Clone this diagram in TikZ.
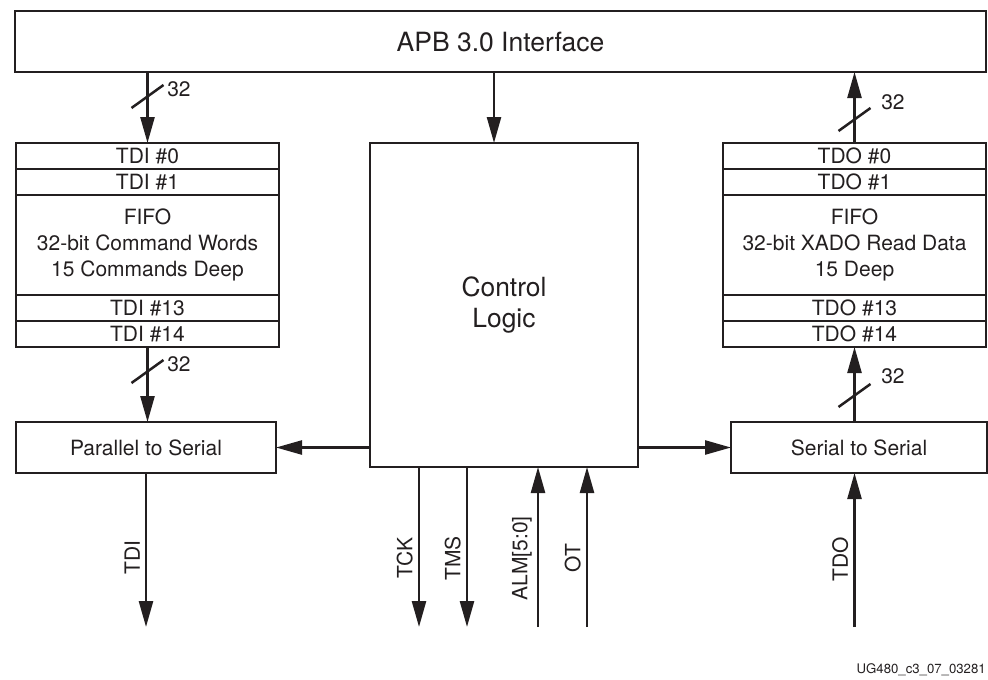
\documentclass[tikz,border=0pt]{standalone}
\usepackage{fontspec}
\setmainfont{TeX Gyre Heros}
\usetikzlibrary{arrows.meta, positioning}
\definecolor{ink}{RGB}{35,31,32}

\begin{document}
\begin{tikzpicture}[
        x=1pt, y=-1pt,
        line width=2.5pt,
        color=ink,
        box/.style={draw, rectangle, inner sep=0pt, outer sep=0pt, align=center,
            font=\fontsize{21}{26}\selectfont},
        row/.style={box, minimum width=263pt, minimum height=26pt},
        wire/.style={-{Triangle[length=26pt, width=14pt]}},
        sig/.style={rotate=90, anchor=south, inner sep=5pt, font=\fontsize{21}{25}\selectfont},
        bus/.style={anchor=west, inner sep=0pt, font=\fontsize{21}{25}\selectfont}
    ]
    \useasboundingbox (0,0) rectangle (988,680);

    % Bus interface
    \node[box, minimum width=971pt, minimum height=61pt,
        font=\fontsize{26.5}{30}\selectfont] (apb) at (500.5, 41.5) {APB 3.0 Interface};

    % Command FIFO
    \node[row] (tdi0) at (147.5, 156) {TDI \#0};
    \node[row, below=0pt of tdi0] (tdi1) {TDI \#1};
    \node[row, minimum height=100pt, below=0pt of tdi1] (tdififo) {FIFO\\32-bit Command Words\\15 Commands Deep};
    \node[row, below=0pt of tdififo] (tdi13) {TDI \#13};
    \node[row, below=0pt of tdi13] (tdi14) {TDI \#14};

    % Read data FIFO
    \node[row] (tdo0) at (854.5, 156) {TDO \#0};
    \node[row, below=0pt of tdo0] (tdo1) {TDO \#1};
    \node[row, minimum height=100pt, below=0pt of tdo1] (tdofifo) {FIFO\\32-bit XADO Read Data\\15 Deep};
    \node[row, below=0pt of tdofifo] (tdo13) {TDO \#13};
    \node[row, below=0pt of tdo13] (tdo14) {TDO \#14};

    % Converters and control
    \node[box, minimum width=260pt, minimum height=51pt] (par) at (146, 447.5) {Parallel to Serial};
    \node[box, minimum width=256pt, minimum height=51pt] (ser) at (859, 447.5) {Serial to Serial};
    \node[box, minimum width=268pt, minimum height=324pt,
        font=\fontsize{26.4}{31}\selectfont] (ctrl) at (504, 305) {Control\\Logic};

    % Free ends of the pins
    \coordinate (tdiout) at (146, 627);
    \coordinate (tck) at (419, 627);
    \coordinate (tms) at (467, 627);
    \coordinate (alm) at (538, 627);
    \coordinate (ot) at (587, 627);
    \coordinate (tdoin) at (854.5, 627);

    % Data path
    \draw[wire] (apb.south -| tdi0.north) -- (tdi0.north);
    \draw[wire] (tdi14.south) -- (tdi14.south |- par.north);
    \draw[wire] (par.south) -- node[sig, pos=.55] {TDI} (tdiout);
    \draw[wire] (tdoin) -- node[sig, pos=.44] {TDO} (tdoin |- ser.south);
    \draw[wire] (tdo14.south |- ser.north) -- (tdo14.south);
    \draw[wire] (tdo0.north) -- (tdo0.north |- apb.south);

    % Control
    \draw[wire] (apb.south -| 494,0) -- (ctrl.north -| 494,0);
    \draw[wire] (ctrl.west |- par.east) -- (par.east);
    \draw[wire] (ctrl.east |- ser.west) -- (ser.west);
    \draw[wire] (ctrl.south -| tck) -- node[sig, pos=.57] {TCK} (tck);
    \draw[wire] (ctrl.south -| tms) -- node[sig, pos=.57] {TMS} (tms);
    \draw[wire] (alm) -- node[sig, pos=.43] {ALM[5:0]} (alm |- ctrl.south);
    \draw[wire] (ot) -- node[sig, pos=.43] {OT} (ot |- ctrl.south);

    % Bus widths
    \draw (147.5, 97) ++(-16, 11) -- ++(32, -23);
    \node[bus] (w1) at (166, 89) {32};
    \draw (147.5, 372) ++(-16, 11) -- ++(32, -23);
    \node[bus] (w2) at (166, 364) {32};
    \draw (854.5, 120) ++(-16, 11) -- ++(32, -23);
    \node[bus] (w3) at (880, 102) {32};
    \draw (854.5, 396) ++(-16, 11) -- ++(32, -23);
    \node[bus] (w4) at (880, 376) {32};

    \node[anchor=east, inner sep=0pt, font=\fontsize{13.2}{15}\selectfont] (figid) at (987, 670) {UG480\_c3\_07\_03281};
\end{tikzpicture}
\end{document}
